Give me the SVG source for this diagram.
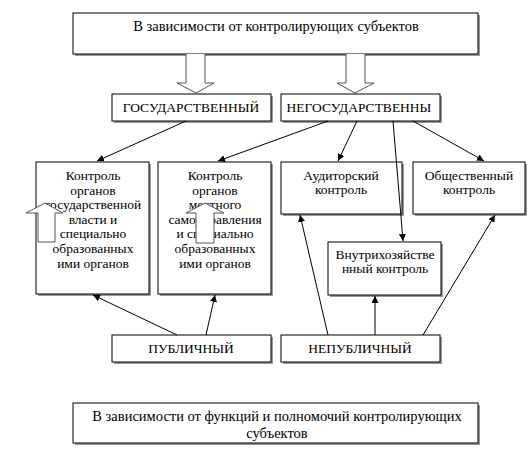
<svg xmlns="http://www.w3.org/2000/svg" width="530" height="452" viewBox="0 0 530 452" font-family="'Liberation Serif', 'Times New Roman', serif" font-size="14">
<defs>
<style>
.box{fill:#fff;stroke:#000;stroke-width:1}
.sh{fill:#999}
text{font-family:'Liberation Serif','Times New Roman',serif;font-size:13.5px;fill:#000;text-anchor:middle}
.big{font-size:14.5px}
.con{stroke:#000;stroke-width:1;fill:none}
.hol{fill:#fff;stroke:#555;stroke-width:1}
</style>
<marker id="ah" viewBox="0 0 10 10" refX="10" refY="5" markerWidth="7" markerHeight="7" orient="auto" markerUnits="userSpaceOnUse">
<path d="M0,0 L10,5 L0,10 z" fill="#000"/>
</marker>
</defs>
<rect width="530" height="452" fill="#fff"/>

<g id="top">
<rect class="sh" x="75" y="15" width="405" height="41"/>
<rect class="box" x="73" y="13" width="405" height="41"/>
<text class="big" x="276" y="31">В зависимости от контролирующих субъектов</text>
</g>

<g id="hollow-arrows">
<path class="hol" d="M186,54 L186,83 L177,83 L196,93 L214,83 L205,83 L205,54"/>
<path class="hol" d="M346,54 L346,83 L337,83 L355,93 L374,83 L365,83 L365,54"/>
</g>

<g id="gos">
<rect class="sh" x="114" y="96" width="159" height="27"/>
<rect class="box" x="112" y="94" width="159" height="27"/>
<text x="191" y="112">ГОСУДАРСТВЕННЫЙ</text>
</g>
<g id="negos">
<rect class="sh" x="283" y="96" width="159" height="27"/>
<rect class="box" x="281" y="94" width="159" height="27"/>
<text x="359" y="112">НЕГОСУДАРСТВЕННЫ</text>
</g>

<g id="box1">
<rect class="sh" x="38" y="164" width="113" height="132"/>
<rect class="box" x="36" y="162" width="113" height="132"/>
<text x="93" y="180">Контроль</text>
<text x="93" y="194.6">органов</text>
<text x="93" y="209.2">государственной</text>
<text x="93" y="223.8">власти и</text>
<text x="93" y="238.4">специально</text>
<text x="93" y="253">образованных</text>
<text x="93" y="267.6">ими органов</text>
<path class="hol" d="M38,242 L38,213 L26,213 L45,203 L63,213 L55,213 L55,242 Z"/>
</g>

<g id="box2">
<rect class="sh" x="160" y="164" width="113" height="132"/>
<rect class="box" x="158" y="162" width="113" height="132"/>
<text x="215" y="180">Контроль</text>
<text x="215" y="194.6">органов</text>
<text x="215" y="209.2">местного</text>
<text x="215" y="223.8">самоуправления</text>
<text x="215" y="238.4">и специально</text>
<text x="215" y="253">образованных</text>
<text x="215" y="267.6">ими органов</text>
<path class="hol" d="M196,243 L196,213 L186,213 L205,203 L224,213 L214,213 L214,243 Z"/>
</g>

<g id="audit">
<rect class="sh" x="283" y="164" width="121" height="52"/>
<rect class="box" x="281" y="162" width="121" height="52"/>
<text x="341" y="180">Аудиторский</text>
<text x="341" y="194">контроль</text>
</g>

<g id="obsh">
<rect class="sh" x="415" y="164" width="112" height="52"/>
<rect class="box" x="413" y="162" width="112" height="52"/>
<text x="469" y="180">Общественный</text>
<text x="469" y="194">контроль</text>
</g>

<g id="vnutr">
<rect class="sh" x="330" y="244" width="113" height="53"/>
<rect class="box" x="328" y="242" width="113" height="53"/>
<text x="385" y="259">Внутрихозяйстве</text>
<text x="385" y="273">нный контроль</text>
</g>

<g id="pub">
<rect class="sh" x="114" y="337" width="159" height="27"/>
<rect class="box" x="112" y="335" width="159" height="27"/>
<text x="191" y="353">ПУБЛИЧНЫЙ</text>
</g>
<g id="nepub">
<rect class="sh" x="283" y="337" width="159" height="27"/>
<rect class="box" x="281" y="335" width="159" height="27"/>
<text x="360" y="353">НЕПУБЛИЧНЫЙ</text>
</g>

<g id="bottom">
<rect class="sh" x="75" y="405" width="405" height="40"/>
<rect class="box" x="73" y="403" width="405" height="40"/>
<text class="big" x="277" y="421">В зависимости от функций и полномочий контролирующих</text>
<text class="big" x="277" y="438">субъектов</text>
</g>

<g id="connectors">
<line class="con" x1="186" y1="121" x2="97" y2="161" marker-end="url(#ah)"/>
<line class="con" x1="328" y1="121" x2="218" y2="161" marker-end="url(#ah)"/>
<line class="con" x1="357" y1="121" x2="338" y2="161" marker-end="url(#ah)"/>
<line class="con" x1="393" y1="121" x2="403" y2="241" marker-end="url(#ah)"/>
<line class="con" x1="413" y1="121" x2="484" y2="161" marker-end="url(#ah)"/>
<line class="con" x1="177" y1="335" x2="93" y2="295" marker-end="url(#ah)"/>
<line class="con" x1="206" y1="335" x2="215" y2="295" marker-end="url(#ah)"/>
<line class="con" x1="328" y1="335" x2="300" y2="215" marker-end="url(#ah)"/>
<line class="con" x1="375" y1="335" x2="375" y2="296" marker-end="url(#ah)"/>
<line class="con" x1="423" y1="335" x2="495" y2="215" marker-end="url(#ah)"/>
</g>
</svg>
